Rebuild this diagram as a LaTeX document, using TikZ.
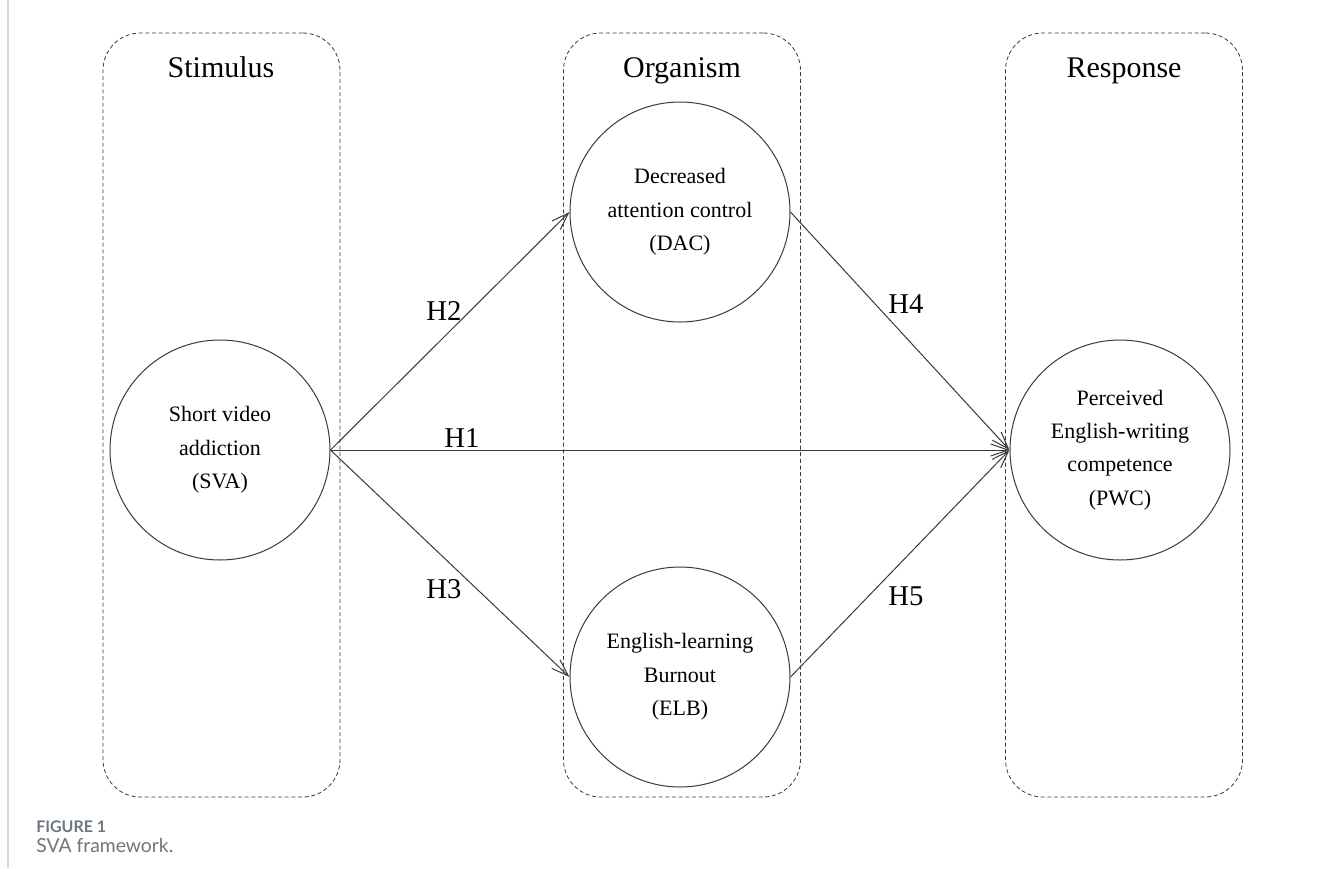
\documentclass[tikz,border=0pt]{standalone}
\usepackage{fontspec}
\setmainfont{Liberation Serif}
\newfontfamily\capfont{Lato}
\usepackage{tikz}
\usetikzlibrary{arrows.meta}

\definecolor{linegray}{HTML}{3A3A3A}
\definecolor{capgray}{HTML}{6E7780}
\definecolor{bargray}{HTML}{D4D6D8}

\tikzset{
  groupbox/.style={draw=linegray, dash pattern=on 3pt off 2pt, line width=0.6pt,
    rounded corners=28pt, minimum width=177.75pt, minimum height=573pt, inner sep=0pt},
  construct/.style={draw=linegray, circle, line width=0.75pt, minimum size=165pt,
    inner sep=0pt, align=center, font=\fontsize{16.5}{25}\selectfont},
  boxtitle/.style={anchor=base, font=\fontsize{22.5}{27}\selectfont},
  hyp/.style={anchor=base, font=\fontsize{21.5}{26}\selectfont},
  hpath/.style={draw=linegray, line width=0.75pt, -{Straight Barb[length=13pt,width=9pt]}}
}

\begin{document}
\begin{tikzpicture}[x=0.75pt, y=-0.75pt]
                \useasboundingbox (0,0) rectangle (1331,868);
                \fill[white] (0,0) rectangle (1331,868);
                \draw[bargray, line width=1.5pt] (8,0) -- (8,868);

                \node[groupbox] (SBOX) at (221.5,415) {};
                \node[groupbox] (OBOX) at (682,415) {};
                \node[groupbox] (RBOX) at (1124,415) {};

                \node[boxtitle] (ST) at (221,77) {Stimulus};
                \node[boxtitle] (OT) at (682,77) {Organism};
                \node[boxtitle] (RT) at (1124,77) {Response};

                \node[construct] (SVA) at (220,450) {Short video\\addiction\\(SVA)};
                \node[construct] (DAC) at (680,212) {Decreased\\attention control\\(DAC)};
                \node[construct] (ELB) at (680,677) {English-learning\\Burnout\\(ELB)};
                \node[construct] (PWC) at (1120,450) {Perceived\\English-writing\\competence\\(PWC)};

                \draw[hpath] (SVA.east) -- (PWC.west);
                \draw[hpath] (SVA.east) -- (DAC.west);
                \draw[hpath] (SVA.east) -- (ELB.west);
                \draw[hpath] (DAC.east) -- (PWC.west);
                \draw[hpath] (ELB.east) -- (PWC.west);

                \node[hyp] (H1) at (462,447) {H1};
                \node[hyp] (H2) at (444,320) {H2};
                \node[hyp] (H3) at (444,598) {H3};
                \node[hyp] (H4) at (906,313) {H4};
                \node[hyp] (H5) at (906,605) {H5};

                \node[anchor=base west, inner sep=0pt, text=capgray,
                  font=\capfont\bfseries\fontsize{12}{14}\selectfont] (FIG) at (36,832) {FIGURE 1};
                \node[anchor=base west, inner sep=0pt, text=capgray,
                  font=\capfont\fontsize{14.5}{17}\selectfont] (CAP) at (36,852) {SVA framework.};
            \end{tikzpicture}
\end{document}
